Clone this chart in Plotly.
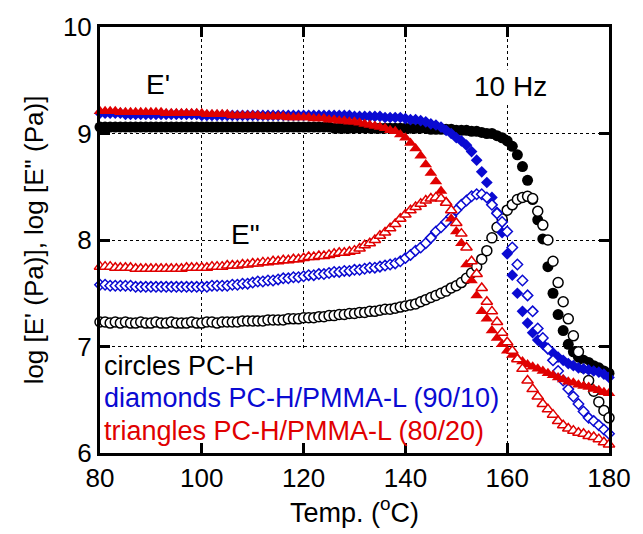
import plotly.graph_objects as go

# Temperature grid (°C)
temp_c = list(range(80, 181))

# PC-H  E' (filled circles)
pch_e1 = [
    9.06, 9.06, 9.06, 9.06, 9.06, 9.06, 9.06, 9.06, 9.06, 9.06,
    9.06, 9.06, 9.06, 9.06, 9.06, 9.06, 9.06, 9.06, 9.06, 9.06,
    9.06, 9.06, 9.06, 9.06, 9.06, 9.06, 9.06, 9.06, 9.06, 9.06,
    9.06, 9.06, 9.06, 9.06, 9.06, 9.06, 9.06, 9.06, 9.06, 9.06,
    9.06, 9.06, 9.06, 9.06, 9.06, 9.06, 9.05, 9.05, 9.05, 9.05,
    9.05, 9.05, 9.05, 9.05, 9.05, 9.05, 9.05, 9.05, 9.05, 9.05,
    9.05, 9.05, 9.05, 9.05, 9.05, 9.04, 9.04, 9.04, 9.04, 9.04,
    9.03, 9.03, 9.03, 9.02, 9.02, 9.01, 9.00, 9.00, 8.98, 8.96,
    8.93, 8.88, 8.80, 8.69, 8.56, 8.38, 8.19, 8.01, 7.75, 7.50,
    7.30, 7.15, 7.02, 6.95, 6.90, 6.87, 6.85, 6.82, 6.80, 6.77,
    6.75]

# PC-H  E" (open circles)
pch_e2 = [
    7.23, 7.23, 7.22, 7.23, 7.22, 7.23, 7.22, 7.22, 7.23, 7.22,
    7.22, 7.23, 7.22, 7.22, 7.23, 7.22, 7.22, 7.22, 7.23, 7.22,
    7.22, 7.23, 7.23, 7.22, 7.23, 7.23, 7.23, 7.23, 7.24, 7.24,
    7.24, 7.24, 7.24, 7.25, 7.25, 7.25, 7.25, 7.26, 7.26, 7.26,
    7.27, 7.27, 7.27, 7.28, 7.28, 7.29, 7.29, 7.30, 7.30, 7.31,
    7.31, 7.32, 7.32, 7.33, 7.33, 7.34, 7.35, 7.35, 7.36, 7.37,
    7.38, 7.39, 7.40, 7.42, 7.44, 7.46, 7.48, 7.50, 7.52, 7.55,
    7.57, 7.60, 7.64, 7.69, 7.75, 7.82, 7.90, 8.02, 8.12, 8.20,
    8.28, 8.33, 8.38, 8.40, 8.41, 8.39, 8.27, 8.14, 8.00, 7.80,
    7.60, 7.42, 7.26, 7.10, 6.95, 6.80, 6.68, 6.58, 6.48, 6.40,
    6.33]

# PC-H/PMMA-L (90/10)  E' (filled diamonds)
b90_e1 = [
    9.19, 9.19, 9.19, 9.19, 9.19, 9.18, 9.18, 9.18, 9.18, 9.18,
    9.18, 9.18, 9.18, 9.18, 9.18, 9.18, 9.18, 9.18, 9.18, 9.18,
    9.17, 9.17, 9.17, 9.17, 9.17, 9.17, 9.17, 9.17, 9.17, 9.17,
    9.17, 9.17, 9.17, 9.17, 9.17, 9.17, 9.17, 9.17, 9.17, 9.17,
    9.17, 9.17, 9.17, 9.17, 9.17, 9.17, 9.17, 9.17, 9.17, 9.17,
    9.16, 9.16, 9.16, 9.16, 9.16, 9.16, 9.15, 9.15, 9.15, 9.15,
    9.14, 9.13, 9.13, 9.12, 9.11, 9.09, 9.08, 9.06, 9.03, 9.00,
    8.96, 8.93, 8.89, 8.83, 8.75, 8.64, 8.54, 8.40, 8.26, 8.07,
    7.87, 7.67, 7.50, 7.33, 7.22, 7.13, 7.06, 7.02, 6.98, 6.94,
    6.90, 6.87, 6.84, 6.82, 6.80, 6.79, 6.78, 6.77, 6.76, 6.74,
    6.71]

# PC-H/PMMA-L (90/10)  E" (open diamonds)
b90_e2 = [
    7.58, 7.58, 7.57, 7.57, 7.57, 7.57, 7.57, 7.56, 7.56, 7.56,
    7.56, 7.56, 7.56, 7.56, 7.56, 7.56, 7.56, 7.56, 7.56, 7.56,
    7.56, 7.56, 7.57, 7.57, 7.57, 7.57, 7.58, 7.58, 7.59, 7.59,
    7.60, 7.61, 7.61, 7.62, 7.62, 7.63, 7.64, 7.64, 7.65, 7.65,
    7.66, 7.67, 7.67, 7.68, 7.68, 7.69, 7.70, 7.70, 7.71, 7.71,
    7.72, 7.72, 7.73, 7.74, 7.74, 7.75, 7.76, 7.77, 7.78, 7.80,
    7.83, 7.86, 7.90, 7.93, 7.97, 8.02, 8.08, 8.12, 8.17, 8.22,
    8.28, 8.33, 8.37, 8.41, 8.43, 8.43, 8.40, 8.33, 8.25, 8.17,
    8.08, 7.93, 7.77, 7.62, 7.48, 7.33, 7.17, 7.08, 6.98, 6.87,
    6.77, 6.68, 6.60, 6.53, 6.46, 6.39, 6.33, 6.30, 6.26, 6.22,
    6.18]

# PC-H/PMMA-L (80/20)  E' (filled triangles)
r80_e1 = [
    9.21, 9.21, 9.21, 9.21, 9.20, 9.20, 9.20, 9.20, 9.20, 9.20,
    9.20, 9.20, 9.20, 9.19, 9.19, 9.19, 9.19, 9.19, 9.19, 9.19,
    9.19, 9.18, 9.18, 9.18, 9.18, 9.18, 9.17, 9.17, 9.17, 9.17,
    9.17, 9.17, 9.16, 9.16, 9.16, 9.16, 9.16, 9.15, 9.15, 9.15,
    9.15, 9.15, 9.14, 9.14, 9.14, 9.13, 9.13, 9.12, 9.12, 9.11,
    9.11, 9.10, 9.09, 9.08, 9.07, 9.06, 9.05, 9.03, 9.02, 8.99,
    8.96, 8.91, 8.86, 8.79, 8.71, 8.63, 8.55, 8.46, 8.36, 8.20,
    8.08, 7.97, 7.77, 7.62, 7.48, 7.33, 7.26, 7.15, 7.08, 7.02,
    6.96, 6.92, 6.89, 6.86, 6.83, 6.81, 6.79, 6.77, 6.75, 6.73,
    6.71, 6.69, 6.67, 6.66, 6.64, 6.63, 6.62, 6.60, 6.59, 6.57,
    6.56]

# PC-H/PMMA-L (80/20)  E" (open triangles)
r80_e2 = [
    7.75, 7.75, 7.75, 7.74, 7.74, 7.74, 7.74, 7.73, 7.73, 7.73,
    7.73, 7.73, 7.73, 7.73, 7.73, 7.73, 7.73, 7.74, 7.74, 7.74,
    7.74, 7.74, 7.75, 7.75, 7.75, 7.76, 7.76, 7.76, 7.77, 7.77,
    7.78, 7.78, 7.79, 7.79, 7.80, 7.80, 7.81, 7.81, 7.82, 7.82,
    7.83, 7.84, 7.84, 7.85, 7.85, 7.86, 7.87, 7.88, 7.88, 7.89,
    7.90, 7.92, 7.95, 7.97, 8.00, 8.04, 8.07, 8.11, 8.15, 8.20,
    8.24, 8.28, 8.31, 8.34, 8.37, 8.39, 8.40, 8.39, 8.35, 8.28,
    8.16, 8.06, 7.93, 7.80, 7.68, 7.55, 7.42, 7.33, 7.23, 7.13,
    7.04, 6.96, 6.88, 6.79, 6.68, 6.60, 6.53, 6.46, 6.41, 6.36,
    6.30, 6.26, 6.23, 6.21, 6.19, 6.18, 6.16, 6.15, 6.13, 6.10,
    6.08]

legend_lines = ["circles PC-H",
                "diamonds PC-H/PMMA-L (90/10)",
                "triangles PC-H/PMMA-L (80/20)"]

BLACK = "#000000"
BLUE = "#0a0ad2"
RED = "#e00000"
FONT = "Liberation Sans, Arial, sans-serif"

fig = go.Figure()

def add(y, symbol, color, filled, size):
    fig.add_trace(go.Scatter(
        x=temp_c, y=y, mode="markers", cliponaxis=False,
        marker=dict(symbol=symbol, size=size,
                    color=color if filled else "white",
                    line=dict(color=color, width=0 if filled else 1.5)),
        hoverinfo="skip"))

add(pch_e1, "circle", BLACK, True, 11)
add(pch_e2, "circle", BLACK, False, 10)
add(b90_e1, "diamond", BLUE, True, 9)
add(b90_e2, "diamond", BLUE, False, 8)
add(r80_e1, "triangle-up", RED, True, 11)
add(r80_e2, "triangle-up", RED, False, 10)

axis_common = dict(
    showline=True, linewidth=3, linecolor="black", mirror="ticks",
    ticks="inside", ticklen=10, tickwidth=3, tickcolor="black",
    showgrid=True, gridcolor="black", gridwidth=1, griddash="3px,3px",
    zeroline=False, tickfont=dict(size=26, family=FONT, color="black"),
)

fig.update_xaxes(range=[80, 180], tickvals=[80, 100, 120, 140, 160, 180],
                 title=dict(text="Temp. (<sup>o</sup>C)", font=dict(size=27, family=FONT),
                            standoff=10),
                 **axis_common)
fig.update_yaxes(range=[6, 10], tickvals=[6, 7, 8, 9, 10],
                 title=dict(text="log [E' (Pa)], log [E\" (Pa)]", font=dict(size=26, family=FONT),
                            standoff=12),
                 **axis_common)

# white box behind legend text (hides grid)
fig.add_shape(type="rect", xref="x", yref="y", x0=80, x1=159.4, y0=6, y1=6.985,
              fillcolor="white", line=dict(width=0), layer="between")

ann_font = dict(size=28, family=FONT, color="black")
fig.add_annotation(x=91.4, y=9.46, text="E'", showarrow=False, font=ann_font, bgcolor="white")
fig.add_annotation(x=160.6, y=9.44, text="10 Hz", showarrow=False, font=ann_font, bgcolor="white")
fig.add_annotation(x=108.6, y=8.05, text="E\"", showarrow=False, font=ann_font, bgcolor="white")

for txt, col, yy in zip(legend_lines, [BLACK, BLUE, RED], [6.82, 6.52, 6.21]):
    fig.add_annotation(x=80.4, y=yy, text=txt, showarrow=False, xanchor="left",
                       font=dict(size=27, family=FONT, color=col))

fig.update_layout(
    width=643, height=534,
    margin=dict(l=100, r=26, t=27, b=74),
    plot_bgcolor="white", paper_bgcolor="white",
    showlegend=False,
    font=dict(family=FONT, color="black"),
)

fig.write_html("out.html")
